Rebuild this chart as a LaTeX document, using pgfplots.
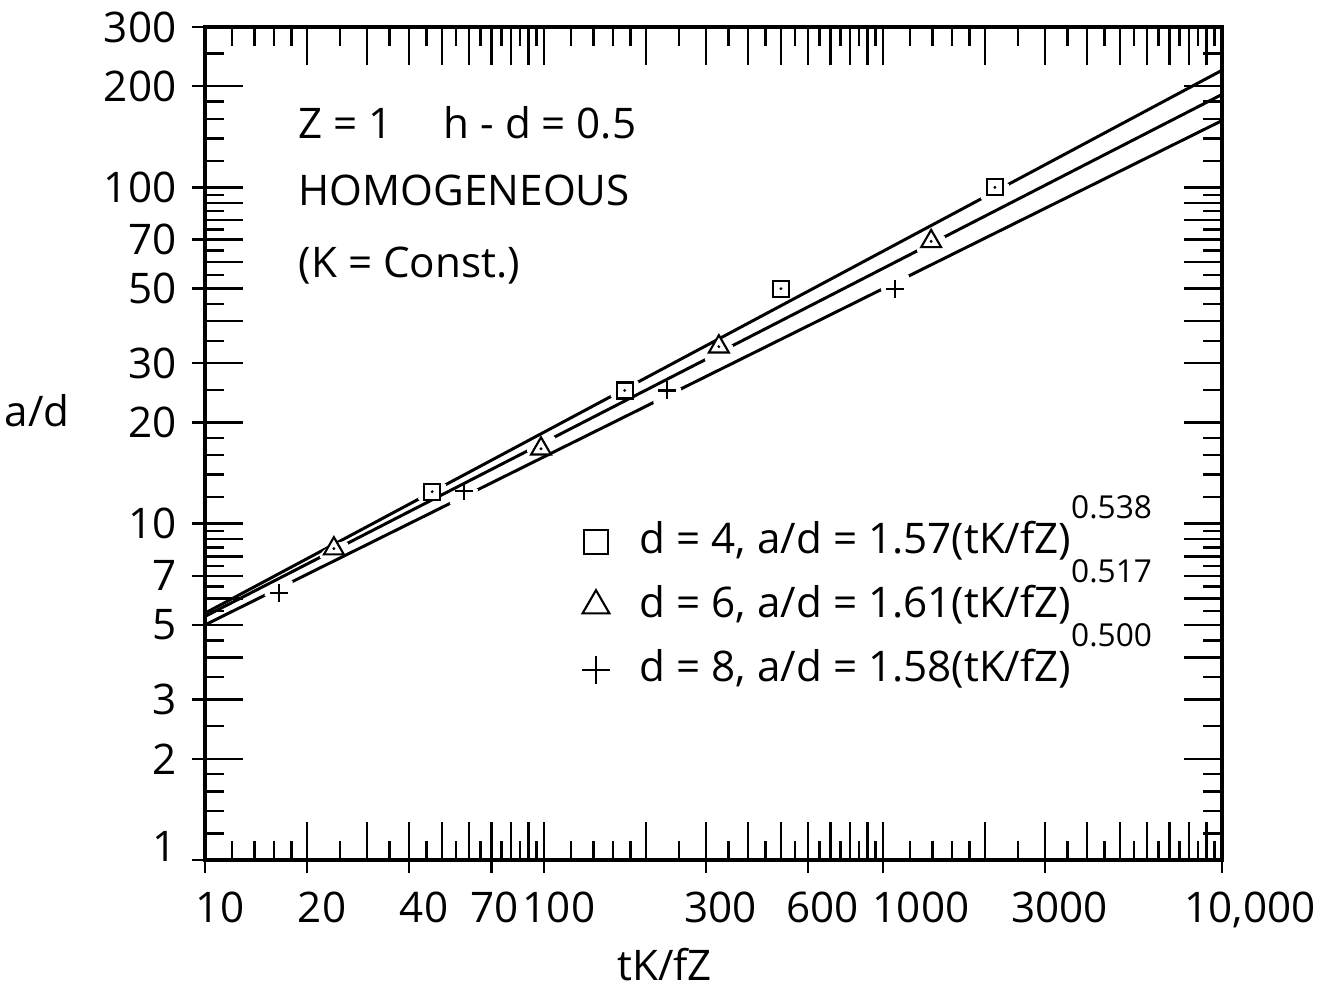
\documentclass[border=0pt]{standalone}
\usepackage{fontspec}
\setmainfont{Open Sans}
\usepackage{pgfplots}
\pgfplotsset{compat=1.18}

% square and triangle with a dot in the middle
\pgfdeclareplotmark{sqdot}{%
  \pgfpathrectangle{\pgfqpoint{-\pgfplotmarksize}{-\pgfplotmarksize}}{\pgfqpoint{2\pgfplotmarksize}{2\pgfplotmarksize}}%
  \pgfusepathqfillstroke
  \begin{pgfscope}
  \pgfsetfillcolor{black}%
  \pgfpathcircle{\pgfpointorigin}{0.45pt}%
  \pgfusepathqfill
  \end{pgfscope}}
\pgfdeclareplotmark{tridot}{%
  \pgfpathmoveto{\pgfqpointpolar{90}{\pgfplotmarksize}}%
  \pgfpathlineto{\pgfqpointpolar{210}{\pgfplotmarksize}}%
  \pgfpathlineto{\pgfqpointpolar{330}{\pgfplotmarksize}}%
  \pgfpathclose
  \pgfusepathqfillstroke
  \begin{pgfscope}
  \pgfsetfillcolor{black}%
  \pgfpathcircle{\pgfpointorigin}{0.45pt}%
  \pgfusepathqfill
  \end{pgfscope}}
% white patch along a line, to break it where a point sits
\pgfdeclareplotmark{gap}{%
  \pgfpathellipse{\pgfpointorigin}{\pgfpoint{1.4mm}{0.73mm}}{\pgfpoint{-0.26mm}{0.5mm}}%
  \pgfusepathqfill}

\pgfplotsset{
  logbox/.style={
    scale only axis, width=10.17cm, height=8.33cm,
    xmin=10, xmax=10000, ymin=1, ymax=300,
    axis line style={line width=1.1pt},
    tick style={line width=0.7pt, black},
    xtick={10,20,40,70,100,300,600,1000,3000,10000},
    ytick={1,2,3,5,7,10,20,30,50,70,100,200,300},
  },
}

\begin{document}
\begin{tikzpicture}
\path[use as bounding box] (-2.05cm,-1.34cm) rectangle (11.28cm,8.60cm);

% outward stubs of the labelled ticks
\begin{loglogaxis}[logbox,
  tick align=outside, major tick length=1.3mm, minor tick length=0pt,
  xtick pos=left, ytick pos=left,
  xticklabels={}, yticklabels={},
]
\end{loglogaxis}

\begin{loglogaxis}[logbox,
  font=\fontsize{12}{14}\selectfont,
  tick align=inside, major tick length=3.8mm, minor tick length=1.9mm,
  xticklabels={10,20,40,{70\hspace*{2.4mm}},100,300,600,{\hspace*{4.6mm}1000},3000,{\hspace*{2.6mm}10,000}},
  yticklabels={\raisebox{2.8mm}{1},2,3,5,7,10,20,30,50,70,100,200,300},
  xticklabel style={anchor=north, inner sep=0pt, yshift=-3.1mm, xshift=1.5mm, font=\fontsize{12}{14}\selectfont},
  yticklabel style={anchor=east, inner sep=0pt, xshift=-2.8mm, font=\fontsize{12}{14}\selectfont},
  extra x ticks={30,50,60,80,90,200,400,500,700,800,900,2000,4000,5000,6000,7000,8000,9000},
  extra y ticks={4,6,8,9,40,60,80,90},
  extra x tick labels={}, extra y tick labels={},
  extra tick style={major tick length=3.8mm, tick align=inside},
  minor xtick={12,14,16,18,25,35,45,55,65,75,85,95,
    120,140,160,180,250,350,450,550,650,750,850,950,
    1200,1400,1600,1800,2500,3500,4500,5500,6500,7500,8500,9500},
  minor ytick={1.2,1.4,1.6,1.8,2.5,3.5,4.5,5.5,6.5,7.5,8.5,9.5,
    12,14,16,18,25,35,45,55,65,75,85,95,120,140,160,180,250},
  xlabel={tK/fZ},
  xlabel style={at={(axis description cs:0.452,-0.125)}, anchor=center},
  ylabel={a/d},
  ylabel style={rotate=-90, at={(axis description cs:-0.165,0.539)}, anchor=center},
  legend cell align=left,
  legend image code/.code={\draw[#1,only marks] plot coordinates {(0.3cm,0cm)};},
  legend style={draw=none, fill=none, inner sep=0pt,
    at={(axis description cs:0.370,0.407)}, anchor=north west,
    row sep=2.4mm, column sep=3mm,
    nodes={inner sep=0pt, text height=3.2mm, text depth=0.8mm},
    font=\fontsize{12}{14}\selectfont},
]
% fitted lines
\addplot[black, line width=0.85pt, forget plot] coordinates {(10,5.42) (10000,223)};
\addplot[black, line width=0.85pt, forget plot] coordinates {(10,5.30) (10000,189)};
\addplot[black, line width=0.85pt, forget plot] coordinates {(10,5.00) (10000,158)};

% breaks in the lines at the points
\addplot[only marks, mark=gap, white, forget plot] coordinates {
  (46.8,12.43) (173,25.1) (2138,97.2)
  (24,8.33) (98,17.2) (328,32.2) (1387,67.8)
  (16.5,6.42) (58,12.03) (231,24.0) (1084,52.0)};

% d = 4
\addplot[only marks, mark=sqdot, mark size=0.8mm, mark options={fill=white, line width=0.6pt}, forget plot]
  coordinates {(46.8,12.45) (173,24.9) (500,50) (2138,100)};
% d = 6
\addplot[only marks, mark=tridot, mark size=1.15mm, mark options={fill=white, line width=0.6pt}, forget plot]
  coordinates {(24.0,8.43) (98,16.7) (328,33.6) (1387,69.1)};
% d = 8
\addplot[only marks, mark=+, mark size=0.9mm, mark options={line width=0.6pt}, forget plot]
  coordinates {(16.5,6.23) (58,12.5) (231,24.9) (1084,50)};

\addlegendimage{only marks, mark=square, mark size=1.2mm, mark options={line width=0.6pt}}
\addlegendentry{d = 4,\ a/d = 1.57(tK/fZ)\raisebox{3.5mm}[0pt][0pt]{\fontsize{9}{10}\selectfont 0.538}}
\addlegendimage{only marks, mark=triangle, mark size=1.55mm, mark options={line width=0.6pt}}
\addlegendentry{d = 6,\ a/d = 1.61(tK/fZ)\raisebox{3.5mm}[0pt][0pt]{\fontsize{9}{10}\selectfont 0.517}}
\addlegendimage{only marks, mark=+, mark size=1.4mm, mark options={line width=0.6pt}}
\addlegendentry{d = 8,\ a/d = 1.58(tK/fZ)\raisebox{3.5mm}[0pt][0pt]{\fontsize{9}{10}\selectfont 0.500}}

\node[anchor=base west, inner sep=0pt] at (axis description cs:0.0915,0.866) {Z = 1\hspace{1.2em}h - d = 0.5};
\node[anchor=base west, inner sep=0pt] at (axis description cs:0.0915,0.786) {HOMOGENEOUS};
\node[anchor=base west, inner sep=0pt] at (axis description cs:0.0915,0.699) {(K = Const.)};
\end{loglogaxis}
\end{tikzpicture}
\end{document}
